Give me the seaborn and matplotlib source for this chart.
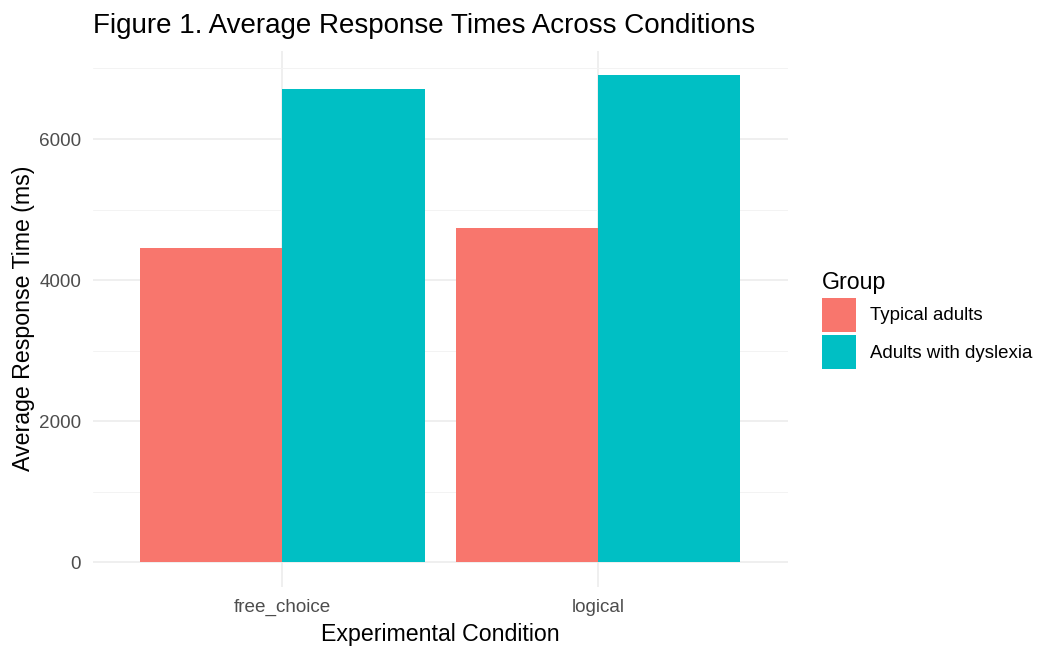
import numpy as np, pandas as pd
import matplotlib; matplotlib.use("Agg")
import matplotlib.pyplot as plt
import seaborn as sns

# values
conditions = ["free_choice", "logical"]
groups = ["Typical adults", "Adults with dyslexia"]
typical_rt = [4460, 4735]
dyslexia_rt = [6710, 6907]
colors = ["#F8766D", "#00BFC4"]

df = pd.DataFrame({
    "condition": conditions * 2,
    "group": [groups[0]] * 2 + [groups[1]] * 2,
    "rt": typical_rt + dyslexia_rt,
})

sns.set_style("white")
plt.rcParams["font.family"] = ["Liberation Sans", "DejaVu Sans"]
plt.rcParams["text.color"] = "black"
plt.rcParams["axes.labelcolor"] = "black"

fig = plt.figure(figsize=(10.41, 6.48), dpi=100)
ax = fig.add_axes([93 / 1041, 1 - 586.6 / 648, (787.6 - 93) / 1041, (586.6 - 50.7) / 648])

sns.barplot(data=df, x="condition", y="rt", hue="group", hue_order=groups,
            palette=colors, saturation=1, width=0.9, gap=0, linewidth=0,
            errorbar=None, ax=ax, zorder=3, legend=False)

ymax = max(dyslexia_rt)
ax.set_ylim(-0.05 * ymax, 1.05 * ymax)
ax.set_xlim(-0.6, 1.6)
ax.set_yticks([0, 2000, 4000, 6000])
ax.set_yticks([1000, 3000, 5000, 7000], minor=True)
ax.grid(True, which="major", axis="both", color="#EBEBEB", linewidth=1.1, zorder=0)
ax.grid(True, which="minor", axis="y", color="#F3F3F3", linewidth=0.7, zorder=0)
ax.set_axisbelow(True)
for s in ax.spines.values():
    s.set_visible(False)
ax.tick_params(axis="both", which="both", length=0, labelsize=13.6, labelcolor="#4D4D4D")
ax.tick_params(axis="x", pad=9)
ax.tick_params(axis="y", pad=8.5)

ax.set_xlabel("Experimental Condition", fontsize=16.7, labelpad=5)
ax.set_ylabel("Average Response Time (ms)", fontsize=16.7, labelpad=3)
ax.set_title("Figure 1. Average Response Times Across Conditions", loc="left",
             fontsize=20, pad=12.7)

handles = [plt.Rectangle((0, 0), 1, 1, facecolor=c, edgecolor="none") for c in colors]
leg = fig.legend(handles, groups, title="Group", loc="upper left",
                 bbox_to_anchor=(822 / 1041, 1 - 271 / 648), frameon=False,
                 fontsize=13.4, title_fontsize=16.7, handlelength=1.83, handleheight=2.43,
                 handletextpad=0.75, labelspacing=0.2, borderaxespad=0, borderpad=0)
leg._legend_box.align = "left"

fig.savefig("out.png", dpi=100)
